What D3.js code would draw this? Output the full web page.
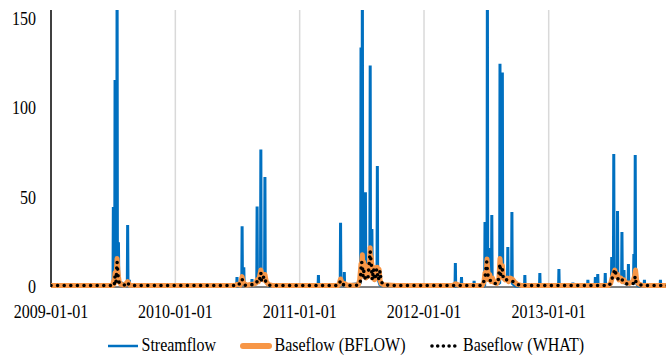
<!DOCTYPE html>
<html><head><meta charset="utf-8">
<script src="https://cdn.jsdelivr.net/npm/d3@7"></script>
<style>html,body{margin:0;padding:0;background:#fff;}svg{display:block;}</style>
</head><body>
<script>
// ---------- DATA ----------
const yTicks = [0, 50, 100, 150];
const xTicks = ["2009-01-01", "2010-01-01", "2011-01-01", "2012-01-01", "2013-01-01"];
const seriesNames = ["Streamflow", "Baseflow (BFLOW)", "Baseflow (WHAT)"];

const streamflow = [
["2009-01-01",0.3],["2009-07-02",0.3],["2009-07-03",44.8],["2009-07-04",2],["2009-07-07",3],["2009-07-08",115.8],["2009-07-09",6],
["2009-07-13",8],["2009-07-14",180],["2009-07-15",12],["2009-07-17",5],["2009-07-18",25],["2009-07-19",3],["2009-08-13",0.8],
["2009-08-14",34.7],["2009-08-15",3],["2009-08-19",4],["2009-08-20",1],["2009-09-01",0.3],
["2010-06-30",0.3],["2010-07-01",5.6],["2010-07-02",0.5],["2010-07-15",1],["2010-07-16",34],["2010-07-17",3],["2010-07-20",2],
["2010-07-21",11],["2010-07-22",1],["2010-08-13",0.8],["2010-08-14",4.5],["2010-08-15",1],["2010-08-28",2],["2010-08-29",45],
["2010-08-30",4],["2010-09-08",5],["2010-09-09",77],["2010-09-10",6],["2010-09-20",5],["2010-09-21",61.5],["2010-09-22",3],["2010-10-05",0.3],
["2011-02-24",0.3],["2011-02-25",6.7],["2011-02-26",0.3],["2011-04-30",0.5],["2011-05-01",36],["2011-05-02",2],["2011-05-11",1],
["2011-05-12",8.4],["2011-05-13",1],["2011-06-28",2],["2011-06-29",6],["2011-06-30",134],["2011-07-01",20],["2011-07-03",15],
["2011-07-04",180],["2011-07-05",12],["2011-07-12",10],["2011-07-13",53],["2011-07-14",8],["2011-07-26",8],["2011-07-27",124],
["2011-07-28",10],["2011-07-31",8],["2011-08-01",32.5],["2011-08-02",7],["2011-08-16",6],["2011-08-17",67.7],["2011-08-18",5],
["2011-08-25",1],["2011-10-12",0.3],["2011-10-13",1.5],["2011-10-14",0.3],["2011-11-28",0.3],["2011-11-29",1.5],["2011-11-30",0.3],
["2012-04-01",0.3],["2012-04-02",13.4],["2012-04-03",1],["2012-04-19",0.5],["2012-04-20",5.6],["2012-04-21",0.5],["2012-05-26",0.3],
["2012-05-27",3.4],["2012-05-28",0.3],["2012-06-27",0.5],["2012-06-28",36.4],["2012-06-29",5],["2012-07-04",6],["2012-07-05",180],
["2012-07-06",8],["2012-07-10",4],["2012-07-11",21.8],["2012-07-12",4],["2012-07-17",3],["2012-07-18",40.3],["2012-07-19",3],
["2012-08-10",2],["2012-08-11",125],["2012-08-12",15],["2012-08-17",12],["2012-08-18",120],["2012-08-19",6],["2012-09-02",4],
["2012-09-03",22.4],["2012-09-04",4],["2012-09-14",3],["2012-09-15",42],["2012-09-16",2],["2012-09-25",0.5],["2012-10-22",0.3],
["2012-10-23",6.7],["2012-10-24",0.3],["2012-12-05",0.3],["2012-12-06",7.8],["2012-12-07",0.3],["2013-01-30",0.3],["2013-01-31",10],
["2013-02-01",0.3],["2013-03-12",0.3],["2013-03-13",2.5],["2013-03-14",0.3],["2013-04-25",0.3],["2013-04-26",4],["2013-04-27",0.5],
["2013-05-17",0.5],["2013-05-18",5.6],["2013-05-19",1],["2013-05-24",1],["2013-05-25",7.3],["2013-05-26",0.5],["2013-06-15",0.5],
["2013-06-16",7.8],["2013-06-17",0.5],["2013-07-04",2],["2013-07-05",16.8],["2013-07-06",5],["2013-07-10",6],["2013-07-11",74.4],
["2013-07-12",8],["2013-07-21",5],["2013-07-22",42.5],["2013-07-23",5],["2013-08-03",4],["2013-08-04",30.8],["2013-08-05",4],
["2013-08-09",3],["2013-08-10",9.5],["2013-08-11",2],["2013-08-22",2],["2013-08-23",12.9],["2013-08-24",2],["2013-09-07",2],
["2013-09-08",18.5],["2013-09-09",3],["2013-09-11",4],["2013-09-12",73.9],["2013-09-13",3],["2013-09-20",0.5],["2013-10-08",0.3],
["2013-10-09",4],["2013-10-10",0.3],["2013-11-24",0.3],["2013-11-25",4],["2013-11-26",0.3],["2013-12-31",0.3]
];

const baseflowBFLOW = [
["2009-01-01",0.8],["2009-07-01",0.8],["2009-07-03",3],["2009-07-05",1.5],["2009-07-08",8],["2009-07-10",3],["2009-07-14",16],
["2009-07-16",10],["2009-07-18",6],["2009-07-20",3],["2009-07-25",1.5],["2009-08-05",1],["2009-08-14",3],["2009-08-16",2.5],
["2009-08-20",1],["2009-09-05",0.8],
["2010-06-25",0.8],["2010-07-01",1.5],["2010-07-10",1],["2010-07-16",5.8],["2010-07-19",3],["2010-07-22",2],["2010-07-28",1],
["2010-08-14",1.5],["2010-08-25",2],["2010-08-29",4],["2010-09-02",3],["2010-09-09",9.5],["2010-09-13",6],["2010-09-17",4],
["2010-09-21",7],["2010-09-25",3],["2010-10-01",1.5],["2010-10-15",0.8],
["2011-04-25",0.8],["2011-05-01",4.5],["2011-05-06",2],["2011-05-12",2],["2011-05-20",1],["2011-06-22",1],["2011-06-26",4],
["2011-06-30",13],["2011-07-01",6],["2011-07-03",16],["2011-07-04",18],["2011-07-06",8],["2011-07-08",14],["2011-07-10",6],
["2011-07-13",12],["2011-07-15",5],["2011-07-18",10],["2011-07-22",6],["2011-07-25",12],["2011-07-27",22],["2011-07-28",10],
["2011-07-30",17],["2011-08-01",12],["2011-08-03",5],["2011-08-06",11],["2011-08-09",4],["2011-08-12",10],["2011-08-15",5],
["2011-08-17",11],["2011-08-19",6],["2011-08-22",10],["2011-08-25",4],["2011-08-28",2],["2011-09-05",1.2],["2011-10-10",0.8],
["2012-03-25",0.8],["2012-04-03",1.8],["2012-04-15",0.8],["2012-06-20",0.8],["2012-06-25",3],["2012-06-28",8],["2012-07-01",5],
["2012-07-04",15.7],["2012-07-06",10],["2012-07-09",4],["2012-07-12",7],["2012-07-16",3],["2012-07-20",5],["2012-07-25",2.5],
["2012-08-02",2],["2012-08-08",5],["2012-08-11",16],["2012-08-14",9],["2012-08-18",12],["2012-08-21",5],["2012-08-26",4],
["2012-09-01",5],["2012-09-05",3],["2012-09-10",5],["2012-09-16",4.5],["2012-09-22",3],["2012-10-01",1.5],["2012-10-15",0.8],
["2013-06-25",0.8],["2013-07-02",2],["2013-07-06",5],["2013-07-10",7],["2013-07-14",9.5],["2013-07-18",6],["2013-07-22",7],
["2013-07-26",4],["2013-08-01",5],["2013-08-05",3],["2013-08-10",4],["2013-08-15",2.5],["2013-08-25",2],["2013-09-05",3],
["2013-09-10",6],["2013-09-13",9.5],["2013-09-16",4],["2013-09-20",2],["2013-10-01",1],["2013-10-15",0.8],["2013-12-31",0.8]
];

const baseflowWHAT = [
["2009-01-01",0.8],["2009-07-01",0.8],["2009-07-03",2],["2009-07-06",1.5],["2009-07-08",6],["2009-07-11",3],["2009-07-14",14],
["2009-07-16",8],["2009-07-18",4],["2009-07-21",2],["2009-07-28",1.2],["2009-08-10",1],["2009-08-14",2.5],["2009-08-17",1.5],
["2009-08-25",0.8],
["2010-07-05",0.8],["2010-07-16",4.5],["2010-07-19",2],["2010-07-25",1],["2010-08-25",1.5],["2010-08-29",3],["2010-09-04",2.5],
["2010-09-09",8],["2010-09-11",3],["2010-09-14",5],["2010-09-21",6],["2010-09-24",2],["2010-10-05",1],["2010-10-15",0.8],
["2011-04-25",0.8],["2011-05-01",3.5],["2011-05-06",1.5],["2011-05-20",0.8],["2011-06-24",1],["2011-06-28",3],["2011-06-30",10],
["2011-07-02",14],["2011-07-04",12],["2011-07-06",6],["2011-07-08",9],["2011-07-12",5],["2011-07-20",4],["2011-07-27",20],
["2011-07-28",17],["2011-07-30",14],["2011-08-02",4],["2011-08-06",10],["2011-08-10",4],["2011-08-15",10],["2011-08-20",4],
["2011-08-25",9],["2011-08-28",3],["2011-09-05",1.2],["2011-10-10",0.8],
["2012-06-20",0.8],["2012-06-28",5],["2012-07-03",14],["2012-07-05",9],["2012-07-08",5],["2012-07-12",3.5],["2012-07-18",4],
["2012-07-28",2],["2012-08-05",2],["2012-08-11",13],["2012-08-13",7],["2012-08-18",10],["2012-08-21",4],["2012-09-01",4],
["2012-09-15",3.5],["2012-09-25",2],["2012-10-10",0.8],
["2013-06-28",0.8],["2013-07-05",4],["2013-07-11",8],["2013-07-15",10],["2013-07-18",6],["2013-07-22",5],["2013-07-28",3],
["2013-08-05",4],["2013-08-10",2],["2013-08-25",1.5],["2013-09-08",2],["2013-09-12",6],["2013-09-14",3],["2013-09-20",1.5],
["2013-10-05",0.8],["2013-12-31",0.8]
];

// ---------- LAYOUT ----------
const W = 666, H = 357;
const colors = {stream: "#0070C0", bflow: "#F79646", what: "#000000", grid: "#D9D9D9"};
const FONT = "'Liberation Serif','Times New Roman',serif";
const SY = 1.2; // vertical stretch of glyphs in the reference

const parse = d3.utcParse("%Y-%m-%d");
const fmt = d3.utcFormat("%Y-%m-%d");

const x = d3.scaleUtc()
  .domain([parse("2009-01-01"), parse("2013-01-01")])
  .range([51, 548.7]);
const y = d3.scaleLinear().domain([0, 150]).range([287, 19]);
const plotTop = 10, plotLeft = 51;

const svg = d3.select("body").append("svg").attr("width", W).attr("height", H)
  .style("font-family", FONT);

svg.append("defs").append("clipPath").attr("id", "clip")
  .append("rect").attr("x", plotLeft).attr("y", plotTop).attr("width", W - plotLeft).attr("height", 300 - plotTop);

// gridlines
const tickDates = xTicks.map(parse);
svg.append("g").selectAll("line").data(tickDates.slice(1)).join("line")
  .attr("x1", d => x(d)).attr("x2", d => x(d))
  .attr("y1", plotTop).attr("y2", y(0))
  .attr("stroke", colors.grid).attr("stroke-width", 1.5);

// axes lines
svg.append("line").attr("x1", plotLeft).attr("x2", plotLeft).attr("y1", plotTop).attr("y2", y(0))
  .attr("stroke", "#000").attr("stroke-width", 1.5);
svg.append("line").attr("x1", plotLeft).attr("x2", W).attr("y1", y(0)).attr("y2", y(0))
  .attr("stroke", "#000").attr("stroke-width", 1);

// y labels
svg.append("g").selectAll("text").data(yTicks).join("text")
  .attr("transform", d => `translate(36,${y(d) + 6}) scale(1,${SY})`)
  .attr("text-anchor", "end").attr("font-size", 16).attr("fill", "#000")
  .text(d => d);

// x labels
svg.append("g").selectAll("text").data(tickDates).join("text")
  .attr("transform", d => `translate(${x(d)},318) scale(1,${SY})`)
  .attr("text-anchor", "middle").attr("font-size", 16).attr("fill", "#000")
  .text(d => fmt(d));

// series
const line = d3.line().x(d => x(parse(d[0]))).y(d => y(d[1]));
const g = svg.append("g").attr("clip-path", "url(#clip)");
g.append("path").datum(streamflow).attr("d", line)
  .attr("fill", "none").attr("stroke", colors.stream).attr("stroke-width", 3).attr("stroke-linejoin", "miter").attr("stroke-miterlimit", 1);
g.append("path").datum(baseflowBFLOW).attr("d", line)
  .attr("fill", "none").attr("stroke", colors.bflow).attr("stroke-width", 5).attr("stroke-linejoin", "round").attr("stroke-linecap", "round");
g.append("path").datum(baseflowWHAT).attr("d", line)
  .attr("fill", "none").attr("stroke", colors.what).attr("stroke-width", 3.6)
  .attr("stroke-dasharray", "0,6.6").attr("stroke-linecap", "round").attr("stroke-linejoin", "round");

// legend
const ly = 346, lty = 351;
const leg = svg.append("g");
leg.append("line").attr("x1", 108).attr("x2", 138).attr("y1", ly).attr("y2", ly)
  .attr("stroke", colors.stream).attr("stroke-width", 2.5);
leg.append("line").attr("x1", 243).attr("x2", 269).attr("y1", ly).attr("y2", ly)
  .attr("stroke", colors.bflow).attr("stroke-width", 6).attr("stroke-linecap", "round");
leg.append("line").attr("x1", 432).attr("x2", 455).attr("y1", ly).attr("y2", ly)
  .attr("stroke", colors.what).attr("stroke-width", 3.6).attr("stroke-dasharray", "0,5.7").attr("stroke-linecap", "round");
const legX = [141.5, 274.5, 463];
leg.selectAll("text").data(seriesNames).join("text")
  .attr("transform", (d, i) => `translate(${legX[i]},${lty}) scale(1,${SY})`)
  .attr("font-size", 16).attr("fill", "#000").text(d => d);
</script>
</body></html>
